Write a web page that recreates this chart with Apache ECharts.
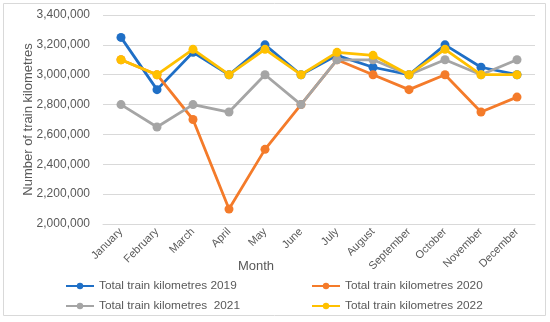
<!DOCTYPE html>
<html><head><meta charset="utf-8">
<script src="https://cdn.jsdelivr.net/npm/echarts@6/dist/echarts.min.js"></script>
<style>html,body{margin:0;padding:0;background:#fff}#c{width:550px;height:322px}</style>
</head><body><div id="c"></div>
<script>
var months = ['January','February','March','April','May','June','July','August','September','October','November','December'];
var km2019 = [3250000,2900000,3150000,3000000,3200000,3000000,3130000,3050000,3000000,3200000,3050000,3000000];
var km2020 = [3100000,3000000,2700000,2100000,2500000,2800000,3100000,3000000,2900000,3000000,2750000,2850000];
var km2021 = [2800000,2650000,2800000,2750000,3000000,2800000,3100000,3100000,3000000,3100000,3000000,3100000];
var km2022 = [3100000,3000000,3170000,3000000,3170000,3000000,3150000,3130000,3000000,3170000,3000000,3000000];
var names = ['Total train kilometres 2019','Total train kilometres 2020','Total train kilometres  2021','Total train kilometres 2022'];
var colors = ['#1F6FC6','#F47B2A','#A5A5A5','#FFC000'];
var FONT = 'Liberation Sans';
function mkSeries(i, data){
  return {name:names[i], type:'line', data:data, symbol:'circle', symbolSize:9,
    lineStyle:{width:2.8,color:colors[i]}, itemStyle:{color:colors[i]}, z:2+i};
}
var legendPos = [[65,280],[311,280],[65,300],[311,300]];
var chart = echarts.init(document.getElementById('c'));
chart.setOption({
  animation:false,
  color:colors,
  graphic:[{type:'rect',shape:{x:3.5,y:3.5,width:542,height:312},style:{fill:'none',stroke:'#d9d9d9',lineWidth:1},silent:true}],
  legend: names.map(function(n,i){return {data:[n],left:legendPos[i][0],top:legendPos[i][1],itemWidth:28,itemHeight:8,itemGap:4,
    textStyle:{color:'#595959',fontSize:11.8,fontFamily:FONT},padding:0};}),
  grid:{left:103,right:15,top:15,bottom:98},
  xAxis:{type:'category',data:months,boundaryGap:true,
    name:'Month',nameLocation:'middle',nameGap:36,nameMoveOverlap:false,
    nameTextStyle:{color:'#595959',fontSize:13,fontFamily:FONT,padding:[0,126,0,0]},
    axisLine:{lineStyle:{color:'#d9d9d9'}},axisTick:{show:false},
    axisLabel:{rotate:45,color:'#595959',fontSize:11,fontFamily:FONT,interval:0,margin:6}},
  yAxis:{type:'value',min:2000000,max:3400000,interval:200000,
    name:'Number of train kilometres',nameLocation:'middle',nameGap:68,nameMoveOverlap:false,
    nameTextStyle:{color:'#595959',fontSize:13,fontFamily:FONT},
    axisLine:{show:false},axisTick:{show:false},
    splitLine:{lineStyle:{color:'#d9d9d9',width:1}},
    axisLabel:{color:'#595959',fontSize:12,fontFamily:FONT,margin:13,
      formatter:function(v){return v.toLocaleString('en-US');}}},
  series:[mkSeries(0,km2019),mkSeries(1,km2020),mkSeries(2,km2021),mkSeries(3,km2022)]
});
</script></body></html>
